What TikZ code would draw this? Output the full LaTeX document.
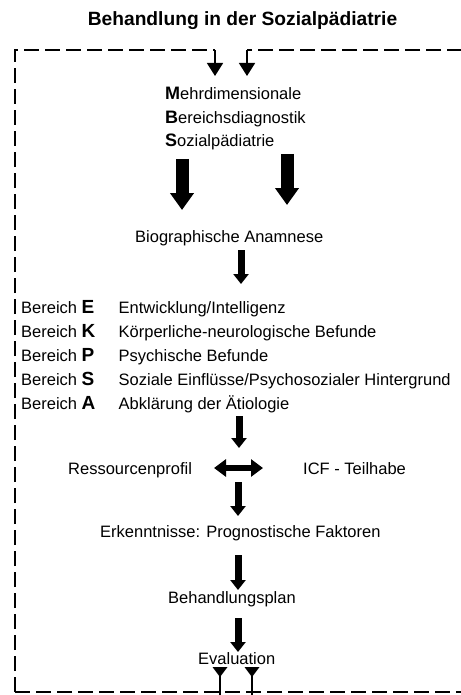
\documentclass[tikz,border=0pt]{standalone}
\usepackage{fontspec}
\setmainfont{Liberation Sans}
\usetikzlibrary{arrows.meta}
\begin{document}
\begin{tikzpicture}[x=1pt,y=-1pt,
  txt/.style={inner sep=0pt,anchor=base west,font=\fontsize{16.5}{18}\selectfont},
  bigarrow/.style={line width=13pt,-{Triangle[width=23pt,length=17pt]}},
  smallarrow/.style={line width=7pt,-{Triangle[width=15pt,length=10pt]}},
  dblarrow/.style={line width=6pt,{Triangle[width=17pt,length=12pt]}-{Triangle[width=17pt,length=12pt]}},
  dashline/.style={line width=1.8pt,dash pattern=on 15pt off 6pt},
  inarrow/.style={line width=1.6pt,-{Triangle[width=16pt,length=13pt]}},
  evline/.style={line width=1.6pt}]
\useasboundingbox[fill=white] (0,0) rectangle (460,695);

% title
\node[inner sep=0pt,anchor=base,font=\fontsize{19.2}{22}\selectfont\bfseries] (title) at (242.5,26) {Behandlung in der Sozialpädiatrie};

% MBS
\node[txt] (m) at (165,100) {{\fontsize{18}{18}\selectfont\bfseries M}ehrdimensionale};
\node[txt] (b) at (165,124) {{\fontsize{18}{18}\selectfont\bfseries B}ereichsdiagnostik};
\node[txt] (s) at (165,147) {{\fontsize{18}{18}\selectfont\bfseries S}ozialpädiatrie};

% big arrows
\coordinate (bl1) at (182,159); \coordinate (bl2) at (182,210);
\coordinate (br1) at (287,154); \coordinate (br2) at (287,205);
\draw[bigarrow] (bl1) -- (bl2);
\draw[bigarrow] (br1) -- (br2);

\node[txt] (bio) at (135,242) {Biographische Anamnese};
\coordinate (a1s) at (241,250); \coordinate (a1e) at (241,284);
\draw[smallarrow] (a1s) -- (a1e);

% Bereiche
\foreach \n/\L/\D/\y in {e/E/Entwicklung\slash Intelligenz/313,
  k/K/Körperliche-neurologische Befunde/337,
  p/P/Psychische Befunde/361,
  s/S/Soziale Einflüsse\slash Psychosozialer Hintergrund/385,
  a/A/Abklärung der Ätiologie/409}{
  \node[txt] (ber\n) at (21,\y) {Bereich {\fontsize{19}{19}\selectfont\bfseries \L}};
  \node[txt] (desc\n) at (118.5,\y) {\D};
}

\coordinate (a2s) at (239,416); \coordinate (a2e) at (239,448);
\draw[smallarrow] (a2s) -- (a2e);

\node[txt] (res) at (68,474) {Ressourcenprofil};
\node[txt] (icf) at (303,474) {ICF - Teilhabe};
\coordinate (dl) at (214,468); \coordinate (dr) at (263,468);
\draw[dblarrow] (dl) -- (dr);

\coordinate (a3s) at (238,482); \coordinate (a3e) at (238,516);
\draw[smallarrow] (a3s) -- (a3e);

\node[txt] (erk) at (100,537) {Erkenntnisse: Prognostische Faktoren};
\coordinate (a4s) at (238,555); \coordinate (a4e) at (238,590);
\draw[smallarrow] (a4s) -- (a4e);

\node[txt] (plan) at (168,603) {Behandlungsplan};
\coordinate (a5s) at (238,618); \coordinate (a5e) at (238,652);
\draw[smallarrow] (a5s) -- (a5e);

\node[txt] (eval) at (198,664) {Evaluation};

% feedback loop
\coordinate (lb) at (15,692); \coordinate (lt) at (15,50);
\coordinate (lc) at (215,50); \coordinate (lin) at (215,76);
\coordinate (rr) at (462,50); \coordinate (rc) at (247,50); \coordinate (rin) at (247,76);
\coordinate (br) at (462,692);
\draw[dashline] (lb) -- (lt) -- (lc);
\draw[inarrow] (lc) -- (lin);
\draw[dashline] (rr) -- (rc);
\draw[inarrow] (rc) -- (rin);
\draw[dashline] (lb) -- (br);

% evaluation outputs
\coordinate (e1t) at (220,667); \coordinate (e1b) at (220,696);
\coordinate (e2t) at (252,667); \coordinate (e2b) at (252,696);
\draw[evline] (e1t) -- (e1b);
\draw[evline] (e2t) -- (e2b);
\fill (e1t) ++(-7.5,0) -- ++(15,0) -- ++(-7.5,10) -- cycle;
\fill (e2t) ++(-7.5,0) -- ++(15,0) -- ++(-7.5,10) -- cycle;
\end{tikzpicture}
\end{document}
